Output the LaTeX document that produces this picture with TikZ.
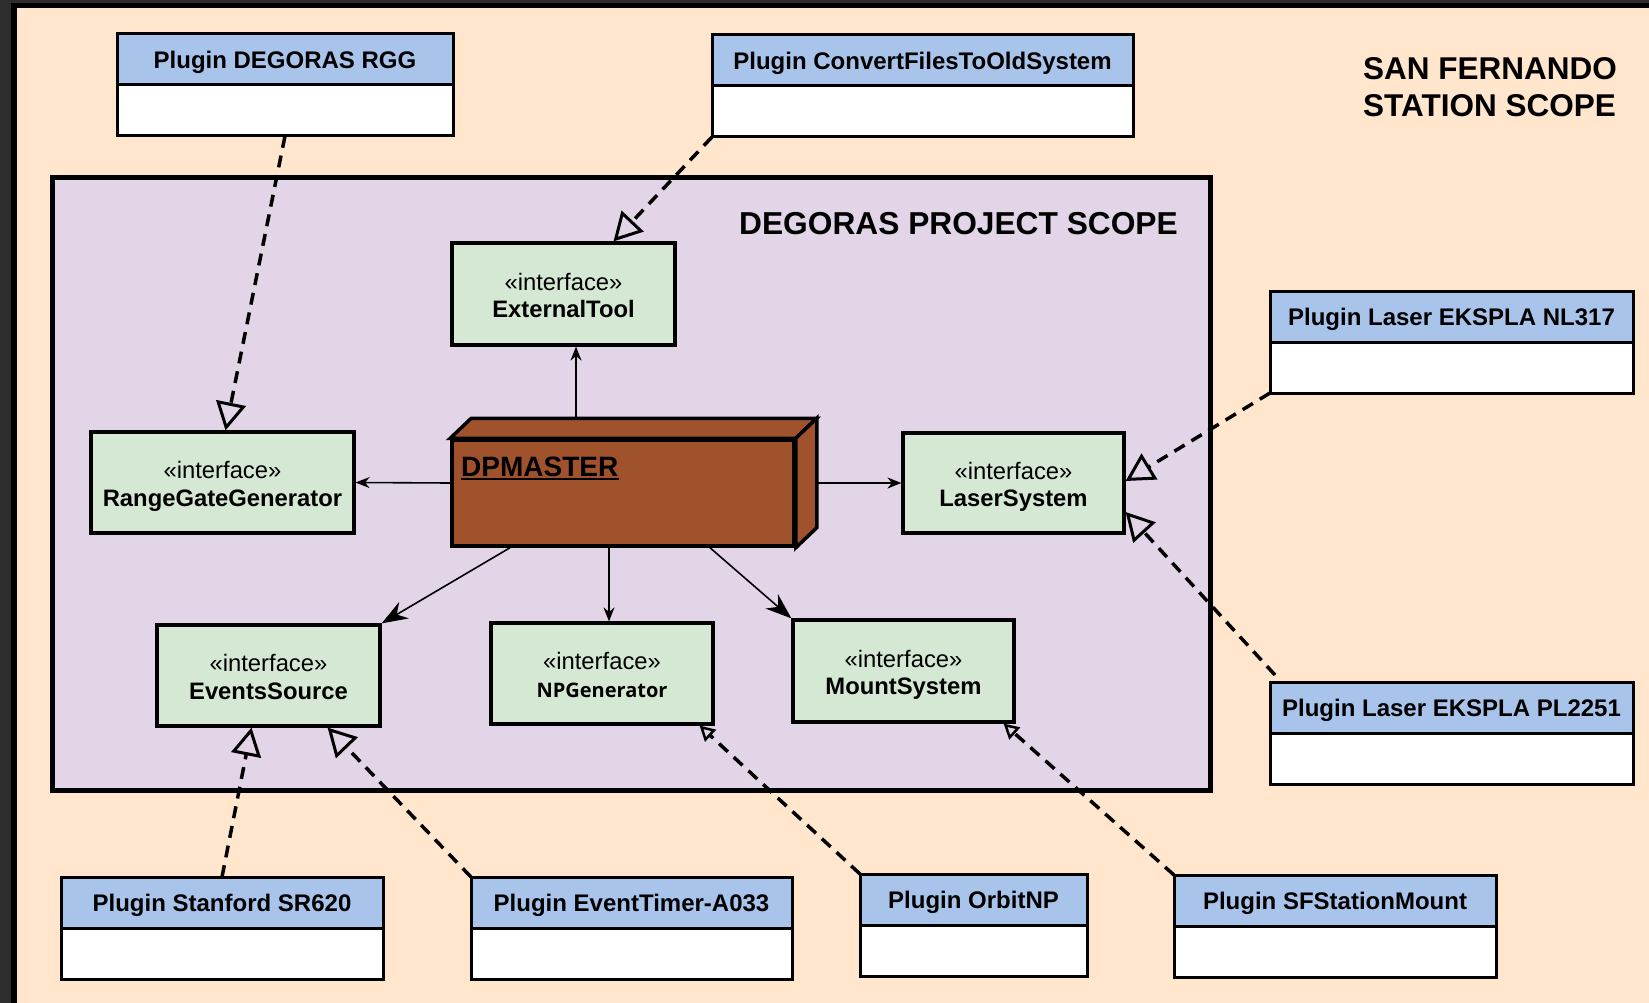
\documentclass[tikz,border=0pt]{standalone}
\usepackage{fontspec}
\setmainfont{Liberation Sans}
\newfontfamily\npfont{Open Sans}
\usetikzlibrary{arrows.meta,calc}

\definecolor{frameDark}{HTML}{2D2D2D}
\definecolor{stationBg}{HTML}{FFE6CC}
\definecolor{projectBg}{HTML}{E1D5E7}
\definecolor{ifaceGreen}{HTML}{D5E8D4}
\definecolor{pluginBlue}{HTML}{A9C4EB}
\definecolor{nodeBrown}{HTML}{A0522D}

% two-line interface label: stereotype over bold name
\newcommand{\ifacelabel}[1]{\rule{0pt}{26pt}«interface»\\#1\rule[-6pt]{0pt}{6pt}}

\tikzset{
  plughead/.style={draw, line width=3pt, fill=pluginBlue, inner sep=0pt, outer sep=0pt,
    minimum height=51, anchor=north west, text height=17.2pt, text depth=0pt,
    font=\fontsize{24}{28}\selectfont\bfseries},
  plugbody/.style={draw, line width=3pt, fill=white, inner sep=0pt, outer sep=0pt,
    minimum height=51, anchor=north west},
  ifbox/.style={draw, line width=3.2pt, fill=ifaceGreen, inner sep=0pt,
    minimum width=222, minimum height=101, align=center,
    font=\fontsize{23.8}{27.5}\selectfont},
  dpface/.style={draw, line width=3.5pt, fill=nodeBrown},
  usesarrow/.style={line width=1.6pt, -{Stealth[length=14pt, width=11pt]}},
  usesbig/.style={line width=1.6pt, -{Stealth[length=26pt, width=19pt]}},
  realizes/.style={line width=3.5pt, dash pattern=on 12pt off 8pt,
    -{Triangle[open, length=28pt, width=30pt, line width=3pt]}},
  realizessmall/.style={line width=3.5pt, dash pattern=on 12pt off 8pt,
    -{Triangle[open, length=15pt, width=16pt, line width=2.5pt]}},
}

\begin{document}
\begin{tikzpicture}[x=1pt, y=-1pt]
\useasboundingbox (0,0) rectangle (1649,1003);
\clip (0,0) rectangle (1649,1003);

% station frame
\fill[frameDark] (0,0) rectangle (1649,1003);
\draw[line width=5.5pt, fill=stationBg] (14,5.5) rectangle (1720,1100);

\node[anchor=base west, inner sep=0pt, font=\fontsize{31.5}{37}\selectfont\bfseries]
  (sfa) at (1363,80) {SAN FERNANDO};
\node[anchor=base west, inner sep=0pt, font=\fontsize{31.5}{37}\selectfont\bfseries]
  (sfb) at (1363,117) {STATION SCOPE};

% project scope
\node[draw, line width=5pt, fill=projectBg, inner sep=0pt,
  minimum width=1158, minimum height=612] (project) at (631,484) {};
\node[anchor=base west, inner sep=0pt, font=\fontsize{31.7}{36}\selectfont\bfseries]
  (projtitle) at (739,235) {DEGORAS PROJECT SCOPE};

% interfaces
\node[ifbox, minimum width=223, minimum height=102] (ext) at (563.5,294)
  {\ifacelabel{\textbf{ExternalTool}}};
\node[ifbox, minimum width=263] (rgg) at (222.5,482.5)
  {\ifacelabel{\textbf{RangeGateGenerator}}};
\node[ifbox, minimum width=221, minimum height=100] (laser) at (1013.5,483)
  {\ifacelabel{\textbf{LaserSystem}}};
\node[ifbox, minimum width=223] (ev) at (268.5,675.5)
  {\ifacelabel{\textbf{EventsSource}}};
\node[ifbox] (np) at (602,673.5)
  {\ifacelabel{{\npfont\fontsize{20}{26}\selectfont\bfseries NPGenerator}}};
\node[ifbox, minimum width=221, minimum height=102] (mt) at (903.5,671)
  {\ifacelabel{\textbf{MountSystem}}};

% DPMASTER node (3D box)
\node[dpface, inner sep=0pt, minimum width=342, minimum height=106] (dp) at (623,493) {};
\draw[dpface] (dp.north west) -- ++(21,-20) -- ($(dp.north east)+(21,-20)$)
  -- (dp.north east) -- cycle;
\draw[dpface] (dp.north east) -- ++(21,-20) -- ($(dp.south east)+(21,-20)$)
  -- (dp.south east) -- cycle;
\node[anchor=base west, inner sep=0pt, font=\fontsize{28}{32}\selectfont\bfseries]
  (dptitle) at (461,476) {DPMASTER};
\draw[line width=2.6pt] ([yshift=-3pt]dptitle.base west) -- ([yshift=-3pt]dptitle.base east);

% plugins
\node[plughead, minimum width=336] (rggH) at (117,34) {Plugin DEGORAS RGG};
\node[plugbody, minimum width=336] (rggB) at (rggH.south west) {};

\node[plughead, minimum width=421] (cvH) at (712,35) {Plugin ConvertFilesToOldSystem};
\node[plugbody, minimum width=421] (cvB) at (cvH.south west) {};

\node[plughead, minimum width=363] (nlH) at (1270,291) {Plugin Laser EKSPLA NL317};
\node[plugbody, minimum width=363] (nlB) at (nlH.south west) {};

\node[plughead, minimum width=363] (plH) at (1270,682) {Plugin Laser EKSPLA PL2251};
\node[plugbody, minimum width=363] (plB) at (plH.south west) {};

\node[plughead, minimum width=322] (stH) at (61,877) {Plugin Stanford SR620};
\node[plugbody, minimum width=322] (stB) at (stH.south west) {};

\node[plughead, minimum width=321] (etH) at (471,877) {Plugin EventTimer-A033};
\node[plugbody, minimum width=321] (etB) at (etH.south west) {};

\node[plughead, minimum width=227] (obH) at (860,874) {Plugin OrbitNP};
\node[plugbody, minimum width=227] (obB) at (obH.south west) {};

\node[plughead, minimum width=322] (smH) at (1174,875) {Plugin SFStationMount};
\node[plugbody, minimum width=322] (smB) at (smH.south west) {};

% DPMASTER uses the interfaces
\draw[usesarrow] ([xshift=-47pt, yshift=20pt]dp.north) -- ([xshift=12.5pt]ext.south);
\draw[usesarrow] ([yshift=10pt]dp.west) -- (rgg.east);
\draw[usesarrow] ([xshift=21pt, yshift=10pt]dp.east) -- (laser.west);
\draw[usesarrow] ([xshift=-14pt]dp.south) -- ([xshift=7pt]np.north);
\draw[usesbig] ([xshift=-113pt]dp.south) -- (ev.north east);
\draw[usesbig] ([xshift=87pt]dp.south) -- (mt.north west);

% plugins realize the interfaces
\draw[realizes] (rggB.south) -- ([xshift=3pt]rgg.north);
\draw[realizes] (cvB.south west) -- ([xshift=50pt]ext.north);
\draw[realizes] (nlB.south west) -- ([yshift=2pt]laser.east);
\draw[realizes] ([xshift=5pt, yshift=7pt]plH.north west) -- ([yshift=-29pt]laser.east);
\draw[realizes] (stH.north) -- ([xshift=-17pt]ev.south);
\draw[realizes] (etH.north west) -- ([xshift=-54pt]ev.south east);
\draw[realizessmall] (obH.north west) -- ([xshift=-15pt]np.south east);
\draw[realizessmall] (smH.north west) -- ([xshift=-12pt]mt.south east);
\end{tikzpicture}
\end{document}
